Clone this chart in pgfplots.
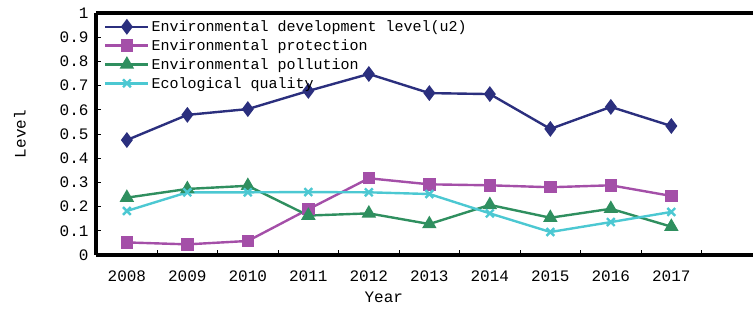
\documentclass[border=0pt]{standalone}
\usepackage{fontspec}
\setmainfont{Liberation Mono}
\usepackage{pgfplots}
\pgfplotsset{compat=1.18}
\definecolor{cnavy}{HTML}{2B2F7E}
\definecolor{cmag}{HTML}{A44FA8}
\definecolor{cgreen}{HTML}{2F8F5F}
\definecolor{ccyan}{HTML}{4CC8D2}
\begin{document}
\begin{tikzpicture}[x=1bp,y=1bp]
\path[use as bounding box] (-96,-56) rectangle (657,255);
\clip (-96,-56) rectangle (657,255);
\begin{axis}[
  at={(0,0)}, anchor=south west,
  scale only axis, width=657bp, height=242bp,
  xmin=-0.51, xmax=10.35, ymin=0, ymax=1,
  axis y line*=left, axis x line*=box,
  axis line style={line width=3.5bp, black},
  xtick={0,...,9},
  xticklabels={2008,2009,2010,2011,2012,2013,2014,2015,2016,2017},
  major x tick style={draw=none},
  minor xtick={-0.5,0.5,1.5,2.5,3.5,4.5,5.5,6.5,7.5,8.5,9.5},
  xtick pos=lower, ytick pos=lower,
  tick align=inside,
  major tick length=5bp, minor tick length=5bp,
  tick style={black, line width=1bp},
  ytick={0,0.1,...,1.01},
  /pgf/number format/assume math mode=true,
  /pgf/number format/fixed, /pgf/number format/precision=1,
  ticklabel style={font=\fontsize{16bp}{17bp}\selectfont},
  xticklabel style={yshift=-12bp},
  yticklabel style={xshift=-4bp},
  xlabel={Year}, ylabel={Level},
  label style={font=\fontsize{16bp}{17bp}\selectfont},
  x label style={at={(axis description cs:0.438,-0.175)}, anchor=center},
  y label style={at={(axis description cs:-0.1157,0.5)}, anchor=center, rotate=0},
  legend style={at={(axis description cs:0.0,0.99)}, anchor=north west,
    draw=none, fill=none, font=\fontsize{15bp}{17bp}\selectfont,
    inner xsep=8bp, inner ysep=3bp, row sep=2.5bp,
    nodes={inner xsep=2bp}},
  legend cell align=left,
  legend image code/.code={\draw[mark repeat=2,mark phase=2] plot coordinates {(0bp,0bp) (21.5bp,0bp) (43bp,0bp)};},
  every axis plot/.append style={line width=2.4bp},
]
\addplot[cnavy, mark=diamond*, mark size=6bp] coordinates {
(0,0.475) (1,0.579) (2,0.603) (3,0.678) (4,0.748) (5,0.669) (6,0.665) (7,0.521) (8,0.612) (9,0.533)};
\addlegendentry{Environmental development level(u2)}
\addplot[cmag, mark=square*, mark size=5bp] coordinates {
(0,0.052) (1,0.044) (2,0.058) (3,0.189) (4,0.317) (5,0.292) (6,0.288) (7,0.280) (8,0.288) (9,0.244)};
\addlegendentry{Environmental protection}
\addplot[cgreen, mark=triangle*, mark size=6bp] coordinates {
(0,0.237) (1,0.273) (2,0.286) (3,0.163) (4,0.172) (5,0.128) (6,0.207) (7,0.154) (8,0.191) (9,0.117)};
\addlegendentry{Environmental pollution}
\addplot[ccyan, mark=x, mark size=5.5bp] coordinates {
(0,0.182) (1,0.259) (2,0.259) (3,0.260) (4,0.259) (5,0.252) (6,0.172) (7,0.095) (8,0.136) (9,0.178)};
\addlegendentry{Ecological quality}
\end{axis}
\end{tikzpicture}
\end{document}
